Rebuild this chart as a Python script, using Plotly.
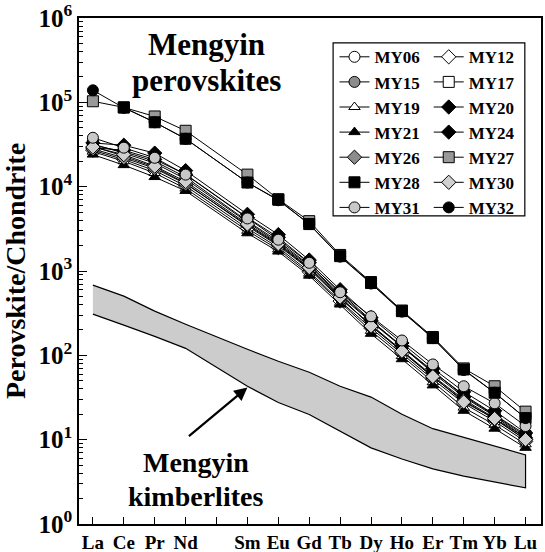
import plotly.graph_objects as go

elements = ["La", "Ce", "Pr", "Nd", "Pm", "Sm", "Eu", "Gd", "Tb", "Dy", "Ho", "Er", "Tm", "Yb", "Lu"]
ree = ["La", "Ce", "Pr", "Nd", "Sm", "Eu", "Gd", "Tb", "Dy", "Ho", "Er", "Tm", "Yb", "Lu"]

MY06 = [30000, 23000, 17000, 11000, 3400, 2000, 1050, 470, 230, 115, 57, 30, 18, 10.5]
MY12 = [27000, 21000, 15500, 10200, 3200, 1900, 980, 440, 210, 105, 52, 27, 16.5, 9.5]
MY15 = [32000, 25000, 19000, 12300, 3800, 2150, 1150, 510, 250, 128, 64, 34, 20, 11.5]
MY17 = [31000, 26000, 20000, 13000, 3900, 2250, 1180, 530, 255, 130, 65, 33, 19.5, 11]
MY19 = [26000, 20000, 14500, 9500, 3000, 1800, 930, 420, 195, 98, 48, 24, 15, 8.8]
MY20 = [33000, 31000, 25000, 15500, 4700, 2700, 1350, 600, 280, 140, 70, 37, 22, 12]
MY21 = [24000, 18000, 13000, 8900, 2800, 1700, 880, 400, 180, 90, 44, 22, 13.5, 8]
MY24 = [29000, 27000, 21000, 14000, 4300, 2500, 1250, 560, 260, 128, 62, 32, 19, 10.5]
MY26 = [28000, 22000, 16500, 10800, 3500, 2050, 1080, 480, 225, 112, 55, 29, 17.5, 10]
MY27 = [103000, 87000, 68000, 46000, 13900, 7100, 3900, 1550, 740, 340, 165, 70, 43, 21.5]
MY28 = [None, 87000, 58000, 37000, 11200, 7000, 3600, 1500, 720, 334, 160, 68, 36, 18]
MY30 = [29500, 24000, 17500, 11500, 3600, 2100, 1100, 490, 222, 112, 56, 28, 17.8, 10]
MY31 = [38000, 29000, 22000, 13900, 4200, 2350, 1250, 560, 290, 150, 78, 43, 27, 14.5]
MY32 = [139000, 86000, 58000, 37000, 11200, 6900, 3600, 1480, 710, 330, 160, 67, 36, 18]

kimb_upper = [681, 504, 334, 234, 118, 85, 63, 43, 32, 20, 13.5, 10.6, 8.5, 6.6]
kimb_lower = [308, 228, 168, 121, 43, 27.6, 19.9, 12.5, 8.0, 5.9, 4.5, 3.7, 3.16, 2.68]

samples = [
    ("MY06", MY06, "circle", "white", "legend"),
    ("MY12", MY12, "diamond", "white", "legend2"),
    ("MY15", MY15, "circle", "#8c8c8c", "legend"),
    ("MY17", MY17, "square", "white", "legend2"),
    ("MY19", MY19, "triangle-up", "white", "legend"),
    ("MY20", MY20, "diamond", "black", "legend2"),
    ("MY21", MY21, "triangle-up", "black", "legend"),
    ("MY24", MY24, "diamond", "black", "legend2"),
    ("MY26", MY26, "diamond", "#8c8c8c", "legend"),
    ("MY27", MY27, "square", "#999999", "legend2"),
    ("MY28", MY28, "square", "black", "legend"),
    ("MY30", MY30, "diamond", "#d0d0d0", "legend2"),
    ("MY31", MY31, "circle", "#c8c8c8", "legend"),
    ("MY32", MY32, "circle", "black", "legend2"),
]

xpos = [elements.index(e) for e in ree]

FONT = "Liberation Serif"


def b(t):
    return "<b>" + t + "</b>"


fig = go.Figure()

# kimberlite field
fig.add_trace(go.Scatter(
    x=xpos + xpos[::-1], y=kimb_upper + kimb_lower[::-1],
    mode="lines", fill="toself", fillcolor="#cccccc",
    line=dict(color="black", width=1.2), showlegend=False, hoverinfo="skip"))

for name, vals, sym, col, lg in samples:
    fig.add_trace(go.Scatter(
        x=xpos, y=vals, name=b(name),
        mode="lines+markers", legend=lg,
        line=dict(color="black", width=1),
        marker=dict(symbol=sym, size=11 if sym != "triangle-up" else 10,
                    color=col, line=dict(color="black", width=1))))

major = [10 ** k for k in range(0, 7)]
major_txt = [b("10<sup>%d</sup>" % k) for k in range(0, 7)]
minor_vals = [m * 10 ** k for k in range(0, 6) for m in range(2, 10)]

fig.update_xaxes(
    range=[-0.45, 14.5], tickmode="array", tickvals=list(range(len(elements))),
    ticktext=[b(e) if e != "Pm" else "" for e in elements],
    ticks="inside", ticklen=7, tickwidth=1.2, tickcolor="black",
    showline=True, linecolor="black", linewidth=1.5, mirror=True,
    showgrid=False, zeroline=False,
    tickfont=dict(family=FONT, size=19, color="black"))

fig.update_yaxes(
    type="log", range=[0, 6], tickmode="array", tickvals=major, ticktext=major_txt,
    ticks="inside", ticklen=8, tickwidth=1.2, tickcolor="black",
    minor=dict(tickmode="array", tickvals=minor_vals, ticks="inside", ticklen=4,
               tickcolor="black", tickwidth=1, showgrid=False),
    showline=True, linecolor="black", linewidth=1.5, mirror=True,
    showgrid=False, zeroline=False,
    tickfont=dict(family=FONT, size=25, color="black"),
    title=dict(text=b("Perovskite/Chondrite"), standoff=6,
               font=dict(family=FONT, size=28, color="black")))

legend_common = dict(
    bgcolor="rgba(0,0,0,0)", borderwidth=0, yanchor="top", xanchor="left",
    font=dict(family=FONT, size=17, color="black"),
    itemwidth=30, tracegroupgap=0)

fig.update_layout(
    template="none",
    font=dict(family=FONT, color="black"),
    width=545, height=552,
    margin=dict(l=79, r=4, t=18, b=28),
    plot_bgcolor="white", paper_bgcolor="white",
    showlegend=True,
    legend=dict(x=0.553, y=0.958, **legend_common),
    legend2=dict(x=0.757, y=0.958, **legend_common),
    shapes=[dict(type="rect", xref="paper", yref="paper",
                 x0=0.55, x1=0.965, y0=0.609, y1=0.951,
                 line=dict(color="black", width=1.2), fillcolor="rgba(0,0,0,0)")],
    annotations=[
        dict(text=b("Mengyin"), xref="paper", yref="paper",
             x=0.277, y=0.947, xanchor="center", yanchor="middle", showarrow=False,
             font=dict(family=FONT, size=31, color="black")),
        dict(text=b("perovskites"), xref="paper", yref="paper",
             x=0.277, y=0.877, xanchor="center", yanchor="middle", showarrow=False,
             font=dict(family=FONT, size=31, color="black")),
        dict(text=b("Mengyin"), xref="paper", yref="paper",
             x=0.253, y=0.1206, xanchor="center", yanchor="middle", showarrow=False,
             font=dict(family=FONT, size=28, color="black")),
        dict(text=b("kimberlites"), xref="paper", yref="paper",
             x=0.253, y=0.0534, xanchor="center", yanchor="middle", showarrow=False,
             font=dict(family=FONT, size=28, color="black")),
        dict(text="", x=5, y=1.62, xref="x", yref="y",
             showarrow=True, arrowhead=2, arrowsize=1.2, arrowwidth=2.2,
             arrowcolor="black", ax=-60, ay=50),
    ],
)

fig.write_html("out.html")
